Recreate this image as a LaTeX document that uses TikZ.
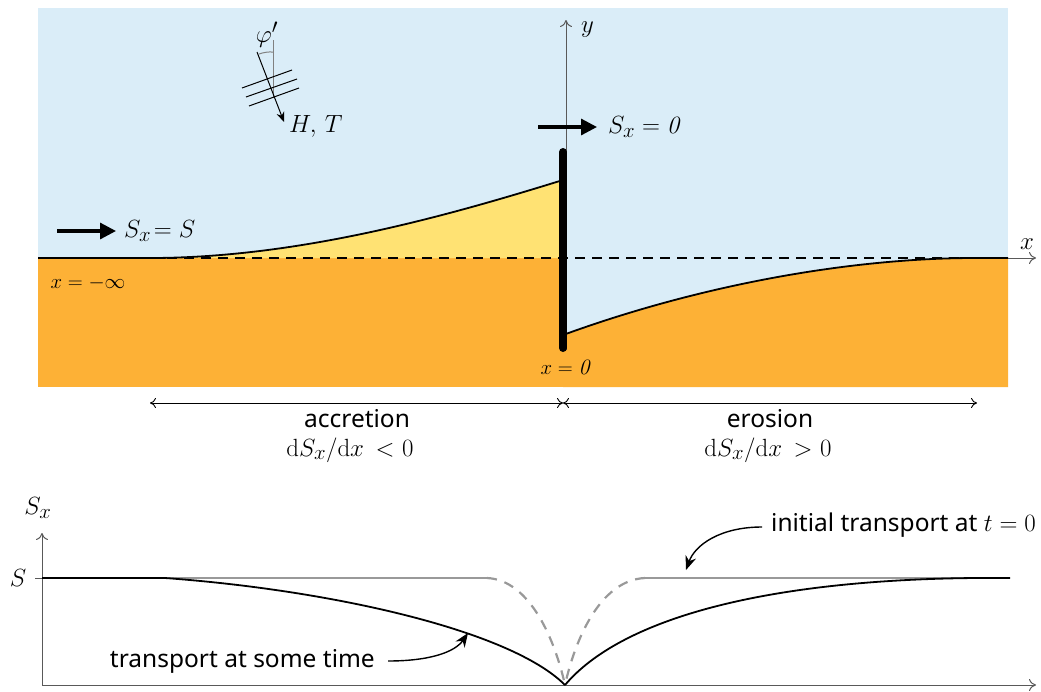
\documentclass[tikz,border=0pt]{standalone}
\usepackage{fontspec}
\newfontfamily\labelsans{Noto Sans}
\usetikzlibrary{arrows.meta}
\definecolor{seablue}{RGB}{218,237,248}
\definecolor{sand}{RGB}{253,177,54}
\definecolor{accr}{RGB}{255,226,115}
\begin{document}
\begin{tikzpicture}[x=1pt,y=-1pt,
  bigmath/.style={inner sep=0pt,font=\fontsize{24.88}{30}\selectfont},
  axmath/.style={inner sep=0pt,font=\fontsize{24.88}{28}\selectfont},
  midmath/.style={inner sep=0pt,font=\fontsize{22}{24}\selectfont},
  dermath/.style={inner sep=0pt,font=\fontsize{24.88}{27}\selectfont},
  txt/.style={inner sep=0pt,font=\labelsans\fontsize{24.5}{26}\selectfont},
  fluxarrow/.style={line width=3.2pt,-{Triangle[length=16pt,width=16pt]}},
  axisline/.style={gray!70!black,line width=1pt,-{To[length=7pt,width=12pt]}},
  dimline/.style={line width=0.9pt,{To[length=6pt,width=10pt]}-{To[length=6pt,width=10pt]}},
  profile/.style={line width=1.8pt},
  note/.style={line width=1.4pt,-{Stealth[length=14pt,width=11pt]}}]
\useasboundingbox (0,0) rectangle (1041,691);
% background
\fill[seablue] (38,8) rectangle (1008,387);
\fill[sand] (38,258) rectangle (563,387);
\fill[sand] (563,387) -- (563,335) .. controls (700,285) and (850,258) .. (975,258) -- (1008,258) -- (1008,387) -- cycle;
\fill[accr] (150,258) .. controls (300,258) and (450,215) .. (563,180) -- (563,258) -- cycle;
% coast profile
\draw[profile] (38,258) -- (150,258) .. controls (300,258) and (450,215) .. (563,180);
\draw[profile] (563,335) .. controls (700,285) and (850,258) .. (975,258) -- (1008,258);
\draw[profile,dash pattern=on 10pt off 7pt] (150,258) -- (975,258);
% axes
\coordinate (xa0) at (1008,258);
\coordinate (xa1) at (1036,258);
\draw[axisline] (xa0) -- (xa1);
\node[axmath,anchor=south] (xlab) at (1027,250) {$x$};
\coordinate (ya0) at (566,350);
\coordinate (ya1) at (566,20);
\draw[axisline] (ya0) -- (ya1);
\node[axmath,anchor=west] (ylab) at (581,30) {$y$};
% wall
\coordinate (w0) at (563,152);
\coordinate (w1) at (563,348);
\draw[line width=8pt,line cap=round] (w0) -- (w1);
% flux arrows
\coordinate (fa0) at (57,231);
\coordinate (fa1) at (116,231);
\draw[fluxarrow] (fa0) -- (fa1);
\node[bigmath,anchor=west] (sxs) at (124,231) {$S_x\!= S$};
\coordinate (fb0) at (538,127);
\coordinate (fb1) at (597,127);
\draw[fluxarrow] (fb0) -- (fb1);
\node[bigmath,anchor=west] (sx0) at (608,127) {$S_x = \mathit{0}$};
% wave symbol
\coordinate (n0) at (273,40);
\coordinate (n1) at (273,98);
\draw[gray,line width=1pt] (n0) -- (n1);
\coordinate (wv0) at (257,52);
\coordinate (wv1) at (284,122);
\draw[line width=1pt,-{Stealth[length=10pt,width=8pt]}] (wv0) -- (wv1);
\draw[gray,line width=1pt] (259,54) to[bend left=10] (273,52);
\draw[line width=1pt] (242,88) -- (292,70);
\draw[line width=1pt] (246,97) -- (297,79);
\draw[line width=1pt] (249,106) -- (299,88);
\node[dermath] (phi) at (267,35) {$\varphi'$};
\node[bigmath,anchor=west] (ht) at (289,126) {$H,\,T$};
% positions
\node[midmath] (xinf) at (88,283) {$x = -\infty$};
\node[midmath] (x0) at (565,367) {$x = \mathit{0}$};
% dimension lines
\coordinate (d0) at (150,403);
\coordinate (d1) at (563,403);
\coordinate (d2) at (977,403);
\draw[dimline] (d0) -- (d1);
\draw[dimline] (d1) -- (d2);
\node[txt] (acc) at (357,419) {accretion};
\node[dermath] (accd) at (350,450) {$\mathrm{d}S_x/\mathrm{d}x\ \,{<}\ 0$};
\node[txt] (ero) at (770,419) {erosion};
\node[dermath] (erod) at (768,450) {$\mathrm{d}S_x/\mathrm{d}x\ \,{>}\ 0$};
% bottom plot axes
\coordinate (o) at (42,685);
\coordinate (ytop) at (42,533);
\coordinate (xend) at (1036,685);
\draw[axisline] (o) -- (ytop);
\draw[gray!70!black,line width=1pt] (o) -- (1008,685);
\draw[axisline] (1000,685) -- (xend);
\node[bigmath] (sxlab) at (38,508) {$S_x$};
\draw[gray!70!black,line width=1pt] (35,578) -- (42,578);
\node[bigmath] (slab) at (18,578) {$S$};
% initial transport (grey)
\draw[gray!80,line width=2.2pt] (42,578) -- (487,578);
\draw[gray!80,line width=2.2pt] (645,578) -- (1010,578);
\draw[gray!80,line width=2.2pt,dash pattern=on 10pt off 8pt] (487,578) .. controls (530,580) and (555,640) .. (565,685);
\draw[gray!80,line width=2.2pt,dash pattern=on 10pt off 8pt] (645,578) .. controls (600,580) and (575,640) .. (565,685);
% transport at some time (black)
\draw[profile] (42,578) -- (165,578) .. controls (330,590) and (510,630) .. (565,685);
\draw[profile] (565,685) .. controls (620,620) and (760,580) .. (975,578) -- (1010,578);
% annotations
\node[txt,anchor=west] (itxt) at (771,525) {initial transport at \rmfamily$t = 0$};
\coordinate (ia0) at (762,527);
\coordinate (ia1) at (686,570);
\draw[note] (ia0) .. controls (720,527) and (695,545) .. (ia1);
\node[txt,anchor=east] (stxt) at (375,661) {transport at some time};
\coordinate (sa0) at (388,661);
\coordinate (sa1) at (468,633);
\draw[note] (sa0) .. controls (430,661) and (455,652) .. (sa1);
\end{tikzpicture}
\end{document}
